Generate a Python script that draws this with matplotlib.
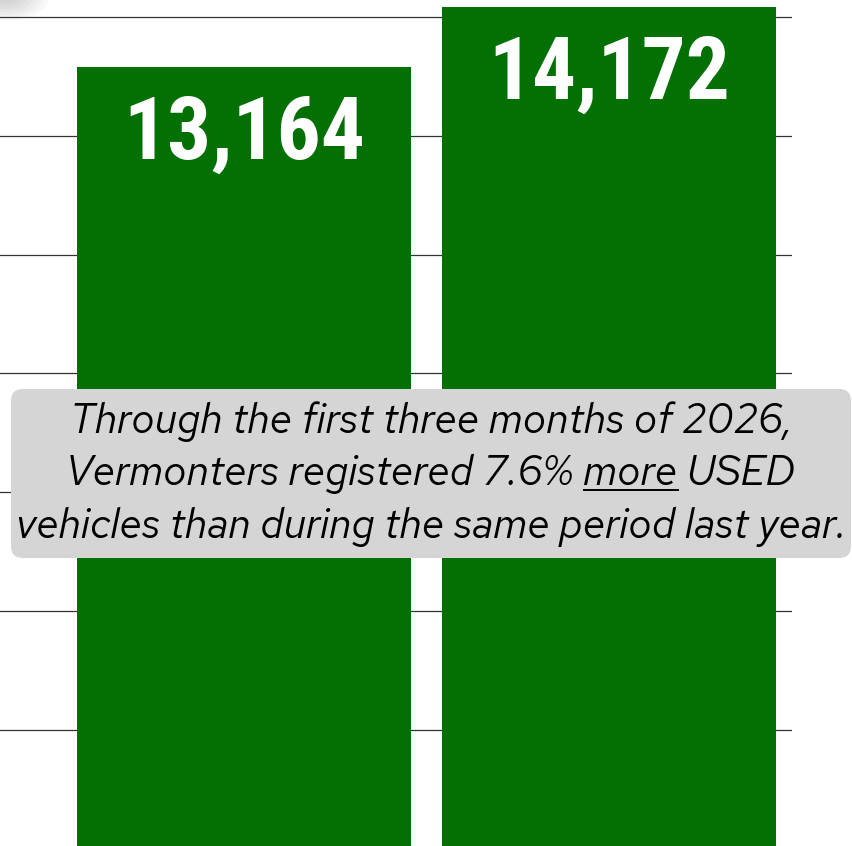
import matplotlib

matplotlib.use("Agg")
import matplotlib.pyplot as plt
from matplotlib.lines import Line2D
from matplotlib.patches import Ellipse, FancyBboxPatch

# data
periods = ["Jan-Mar 2025", "Jan-Mar 2026"]
used_registrations = [13164, 14172]
value_labels = ["13,164", "14,172"]
gridline_values = [2000, 4000, 6000, 8000, 10000, 12000, 14000]
note_lines = [
    "Through the first three months of 2026,",
    "Vermonters registered 7.6% more USED",
    "vehicles than during the same period last year.",
]

BAR_GREEN = "#027002"
BOX_GREY = "#d5d5d5"
W, H, DPI = 852, 846, 100
LABEL_FONT = ["Roboto Condensed", "Liberation Sans", "DejaVu Sans"]
NOTE_FONT = ["Red Hat Text", "Lato", "DejaVu Sans"]

fig = plt.figure(figsize=(W / DPI, H / DPI), dpi=DPI)
ax = fig.add_axes([0, 0, 792 / W, 1])

x = list(range(len(periods)))
bars = ax.bar(x, used_registrations, width=0.915, color=BAR_GREEN, zorder=2)
for gv in gridline_values:
    ax.axhline(gv, color="#333333", linewidth=0.9, zorder=1)

ax.set_xlim(-0.668, 1.501)
ax.set_ylim(47, 14286)
ax.axis("off")

# faint shadow blob in the top-left corner of the screenshot
for i in range(8):
    s = 1 - i / 8
    fig.patches.append(Ellipse((0.06, H / DPI + 0.02), 0.85 * s, 0.45 * s,
                               transform=fig.dpi_scale_trans, facecolor="#808080",
                               edgecolor="none", alpha=0.05, zorder=0))

fig.canvas.draw()
renderer = fig.canvas.get_renderer()


def fit_size(text_obj, target_px):
    # scale a text so its rendered width matches the reference
    w = text_obj.get_window_extent(renderer).width
    text_obj.set_fontsize(text_obj.get_fontsize() * target_px / w)


for bar, lab in zip(bars, value_labels):
    t = ax.annotate(
        lab,
        (bar.get_x() + bar.get_width() / 2, bar.get_height()),
        xytext=(0, -92 * 0.72),
        textcoords="offset points",
        ha="center",
        va="baseline",
        color="white",
        fontsize=66,
        fontweight="bold",
        family=LABEL_FONT,
        zorder=3,
    )
    fit_size(t, 242)

# grey note box (inches from bottom-left)
box = FancyBboxPatch(
    (0.11, (H - 558) / DPI),
    8.40,
    1.69,
    boxstyle="round,pad=0,rounding_size=0.12",
    transform=fig.dpi_scale_trans,
    facecolor=BOX_GREY,
    edgecolor="none",
    zorder=5,
)
fig.patches.append(box)

baselines = [433, 485, 538]
text_kw = dict(
    ha="center",
    va="baseline",
    fontsize=30,
    style="italic",
    family=NOTE_FONT,
    color="black",
    zorder=6,
)
cx = 431 / W
texts = [fig.text(cx, 1 - yb / H, line, **text_kw) for line, yb in zip(note_lines, baselines)]
fit_size(texts[2], 829)
note_size = texts[2].get_fontsize()
for t in texts:
    t.set_fontsize(note_size)
text_kw["fontsize"] = note_size

# underline "more"
line2 = texts[1]
full_bb = line2.get_window_extent(renderer)
probe = fig.text(0, 0, "Vermonters registered 7.6% more", **text_kw)
w_upto = probe.get_window_extent(renderer).width
probe.set_text("more")
w_more = probe.get_window_extent(renderer).width
probe.remove()
x_end = full_bb.x0 + w_upto
x_start = x_end - w_more
yu = 1 - (baselines[1] + 5) / H
fig.add_artist(
    Line2D([x_start / W, x_end / W], [yu, yu], transform=fig.transFigure,
           color="black", linewidth=1.4, zorder=6)
)

fig.savefig("out.png", dpi=DPI)
